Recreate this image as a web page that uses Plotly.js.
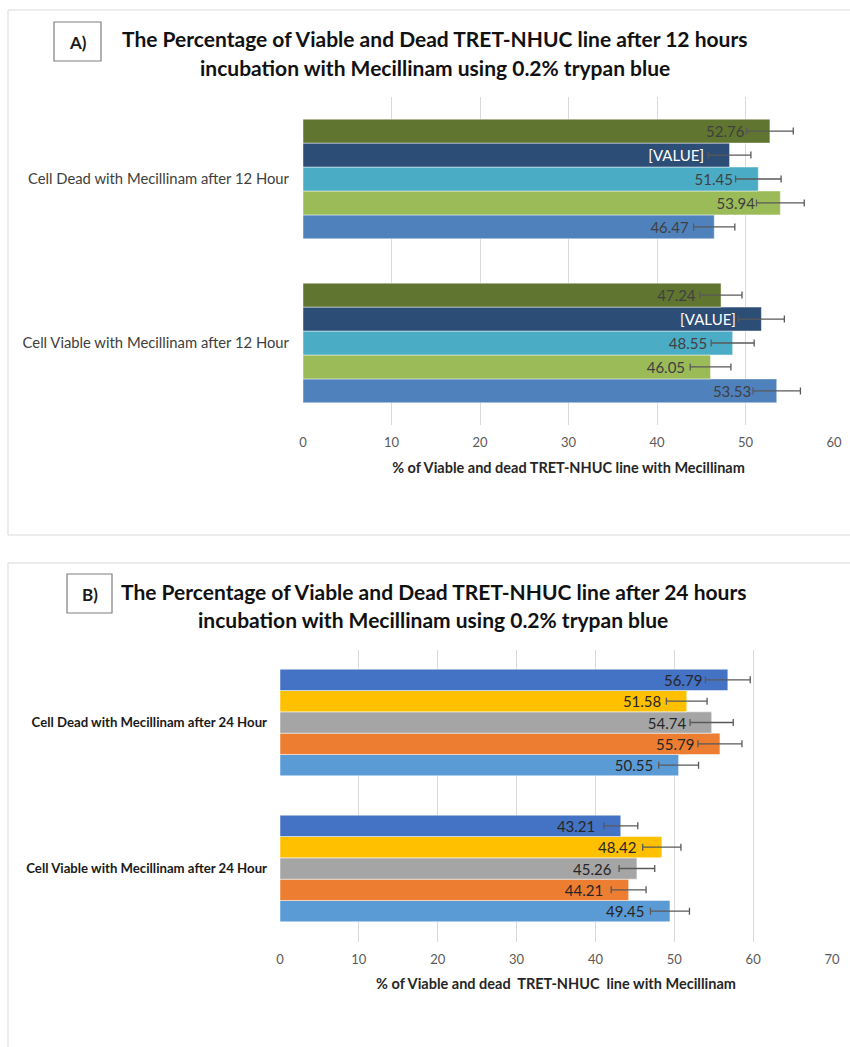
<!DOCTYPE html>
<html>
<head>
<meta charset="utf-8">
<script src="https://cdn.plot.ly/plotly-3.0.1.min.js"></script>
<style>html,body{margin:0;padding:0;background:#fff;} #chart{width:850px;height:1047px;}</style>
</head>
<body>
<div id="chart"></div>
<script>
// ---------- DATA ----------
const categoriesA = ['Cell Viable with Mecillinam after 12 Hour', 'Cell Dead with Mecillinam after 12 Hour'];
// series listed bottom-to-top within each group: [Viable, Dead]
const seriesA1 = [53.53, 46.47];
const seriesA2 = [46.05, 53.94];
const seriesA3 = [48.55, 51.45];
const seriesA4 = [51.8, 48.2];
const seriesA5 = [47.24, 52.76];
const labelsA4 = ['[VALUE]', '[VALUE]'];

const categoriesB = ['Cell Viable with Mecillinam after 24 Hour', 'Cell Dead with Mecillinam after 24 Hour'];
const seriesB1 = [49.45, 50.55];
const seriesB2 = [44.21, 55.79];
const seriesB3 = [45.26, 54.74];
const seriesB4 = [48.42, 51.58];
const seriesB5 = [43.21, 56.79];

const titleA1 = 'The Percentage of Viable and Dead TRET-NHUC line after 12 hours';
const titleA2 = 'incubation with Mecillinam using 0.2% trypan blue';
const titleB1 = 'The Percentage of Viable and Dead TRET-NHUC line after 24 hours';
const titleB2 = 'incubation with Mecillinam using 0.2% trypan blue';
const xTitleA = '% of Viable and dead TRET-NHUC line with Mecillinam';
const xTitleB = '% of Viable and dead&nbsp; TRET-NHUC&nbsp; line with Mecillinam';
const errorPercent = 5;

// ---------- BUILD ----------
const FONT = 'Lato, "Open Sans", "DejaVu Sans", sans-serif';
const pad = '\u2002\u2002\u2002';
function mkTrace(cats, vals, color, xa, ya, labels, txtColor) {
  return {
    type: 'bar', orientation: 'h',
    y: cats, x: vals,
    xaxis: xa, yaxis: ya,
    marker: {color: color, line: {color: 'rgba(255,255,255,0.6)', width: 0.8}},
    text: (labels || vals.map(v => v.toFixed(2))).map(s => s + pad),
    textposition: 'inside', insidetextanchor: 'end',
    textfont: {family: FONT, size: 15, color: txtColor},
    constraintext: 'none',
    cliponaxis: false,
    error_x: {type: 'percent', value: errorPercent, color: '#595959', thickness: 1.3, width: 3.5},
    hoverinfo: 'x', showlegend: false
  };
}
const data = [
  mkTrace(categoriesA, seriesA1, '#4f81bd', 'x', 'y', null, '#404040'),
  mkTrace(categoriesA, seriesA2, '#9bbb59', 'x', 'y', null, '#404040'),
  mkTrace(categoriesA, seriesA3, '#4bacc6', 'x', 'y', null, '#404040'),
  mkTrace(categoriesA, seriesA4, '#2c4d75', 'x', 'y', labelsA4, '#ffffff'),
  mkTrace(categoriesA, seriesA5, '#60752f', 'x', 'y', null, '#404040'),
  mkTrace(categoriesB, seriesB1, '#5b9bd5', 'x2', 'y2', null, '#262626'),
  mkTrace(categoriesB, seriesB2, '#ed7d31', 'x2', 'y2', null, '#262626'),
  mkTrace(categoriesB, seriesB3, '#a5a5a5', 'x2', 'y2', null, '#262626'),
  mkTrace(categoriesB, seriesB4, '#ffc000', 'x2', 'y2', null, '#262626'),
  mkTrace(categoriesB, seriesB5, '#4472c4', 'x2', 'y2', null, '#262626')
];

const W = 850, H = 1047;
const px = v => v / W, py = v => 1 - v / H;

const xAxisBase = {
  showgrid: true, gridcolor: '#d9d9d9', gridwidth: 1,
  zeroline: false, showline: false, ticks: '',
  tickfont: {family: FONT, size: 13, color: '#595959'},
  ticklabelstandoff: 8, fixedrange: true
};
const titleFont = {family: FONT, size: 14.5, color: '#262626', weight: 'bold'};
function txt(x, y, text, size, color) {
  return {xref: 'paper', yref: 'paper', x: px(x), y: py(y), text: text, showarrow: false,
          font: {family: FONT, size: size, color: color}, xanchor: 'center', yanchor: 'middle'};
}
const layout = {
  width: W, height: H,
  margin: {l: 0, r: 0, t: 0, b: 0},
  paper_bgcolor: '#ffffff', plot_bgcolor: 'rgba(0,0,0,0)',
  barmode: 'group', bargap: 0.27, bargroupgap: 0,
  font: {family: FONT},
  xaxis: Object.assign({}, xAxisBase, {
    domain: [px(303), px(834)], anchor: 'y', range: [0, 60], dtick: 10,
    title: {text: xTitleA, font: titleFont, standoff: 13}
  }),
  yaxis: {
    domain: [py(425), py(97)], anchor: 'x', type: 'category',
    showgrid: false, zeroline: false, showline: false, ticks: '',
    tickfont: {family: FONT, size: 14.8, color: '#404040'},
    ticklabelstandoff: 13, fixedrange: true
  },
  xaxis2: Object.assign({}, xAxisBase, {
    domain: [px(280), px(832)], anchor: 'y2', range: [0, 70], dtick: 10,
    title: {text: xTitleB, font: titleFont, standoff: 13}
  }),
  yaxis2: {
    domain: [py(941.5), py(649.5)], anchor: 'x2', type: 'category',
    showgrid: false, zeroline: false, showline: false, ticks: '',
    tickfont: {family: FONT, size: 13.2, color: '#1a1a1a', weight: 'bold'},
    ticklabelstandoff: 12, fixedrange: true
  },
  shapes: [
    {type: 'rect', xref: 'paper', yref: 'paper', x0: px(8), x1: px(852), y0: py(535), y1: py(10),
     line: {color: '#d9d9d9', width: 1}, fillcolor: 'rgba(0,0,0,0)', layer: 'below'},
    {type: 'rect', xref: 'paper', yref: 'paper', x0: px(8), x1: px(852), y0: py(1050), y1: py(563),
     line: {color: '#d9d9d9', width: 1}, fillcolor: 'rgba(0,0,0,0)', layer: 'below'},
    {type: 'rect', xref: 'paper', yref: 'paper', x0: px(54), x1: px(101), y0: py(61), y1: py(22),
     line: {color: '#7f7f7f', width: 1.2}, fillcolor: '#ffffff'},
    {type: 'rect', xref: 'paper', yref: 'paper', x0: px(67), x1: px(112), y0: py(613), y1: py(574),
     line: {color: '#7f7f7f', width: 1.2}, fillcolor: '#ffffff'}
  ],
  annotations: [
    txt(77.5, 42, '<b>A)</b>', 17, '#1a1a1a'),
    txt(89.5, 594, '<b>B)</b>', 17, '#1a1a1a'),
    txt(435, 38, '<b>' + titleA1 + '</b>', 21, '#111111'),
    txt(435, 68, '<b>' + titleA2 + '</b>', 21, '#111111'),
    txt(433, 591, '<b>' + titleB1 + '</b>', 21, '#111111'),
    txt(433, 619, '<b>' + titleB2 + '</b>', 21, '#111111')
  ]
};

Plotly.newPlot('chart', data, layout, {displayModeBar: false, staticPlot: true});
</script>
</body>
</html>
